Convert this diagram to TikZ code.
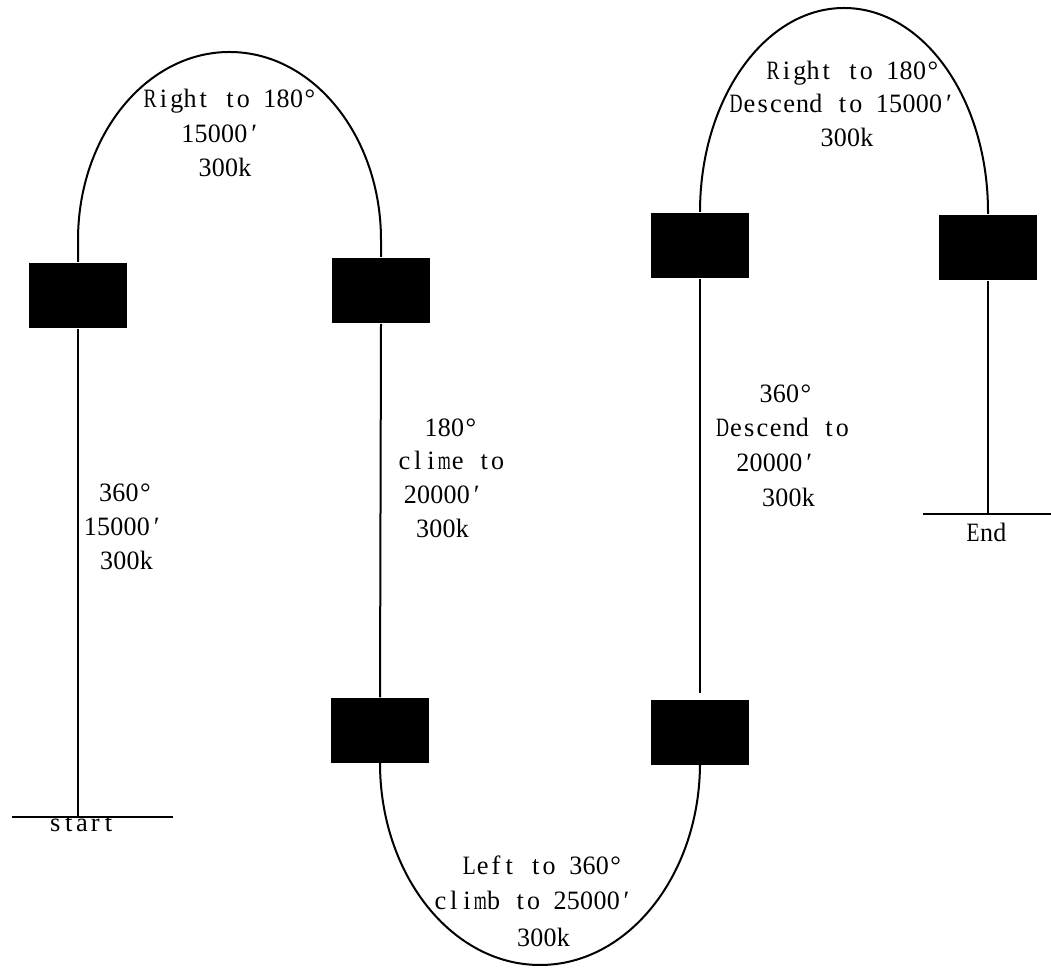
\documentclass[tikz,border=0pt]{standalone}
\usepackage{fontspec}
\setmainfont{Liberation Serif}
\usepackage{graphicx}
\newlength\monocw
\newcommand\monochar[1]{\settowidth\monocw{#1}\ifdim\monocw>13pt\relax\makebox[13.3pt]{\resizebox{13pt}{\height}{#1}}\else\makebox[13.3pt]{#1}\fi}
\def\monoend{\monoend}
\def\monoloop#1{\ifx#1\monoend\else\monochar{#1}\expandafter\monoloop\fi}
\newcommand\mono[1]{\monoloop#1\monoend}
\begin{document}
\begin{tikzpicture}[x=1pt,y=1pt,line width=2pt,
  blk/.style={fill=black,draw=none,minimum width=98pt,minimum height=65pt,inner sep=0pt},
  txt/.style={font=\fontsize{26.5}{30}\selectfont,inner sep=0pt,anchor=base}]
\useasboundingbox (0,0) rectangle (1051,968);
% boxes
\node[blk] (b1) at (78,672.5) {};
\node[blk] (b2) at (381,677.5) {};
\node[blk] (b3) at (380,237) {};
\node[blk] (b4) at (700,235) {};
\node[blk] (b5) at (700,722.5) {};
\node[blk] (b6) at (988,720.5) {};
% helper coordinates
\coordinate (s) at (78,151);
\coordinate (sl) at (12,151);
\coordinate (sr) at (173,151);
\coordinate (e) at (988,454);
\coordinate (el) at (923,454);
\coordinate (er) at (1051,454);
\coordinate (g) at (700,275);
\coordinate (a1) at (78,728);
\coordinate (a2) at (380,205);
% path
\draw (b1.south) -- (s);
\draw (sl) -- (sr);
\draw (b1.north) -- (a1) arc[start angle=180,end angle=0,x radius=151.5,y radius=188] -- (b2.north);
\draw (b2.south) -- (b3.north);
\draw (b3.south) -- (a2) arc[start angle=180,end angle=360,x radius=160,y radius=202] -- (b4.south);
\draw (g) -- (b5.south);
\draw (b5.north) arc[start angle=180,end angle=0,x radius=144,y radius=204] -- (b6.north);
\draw (b6.south) -- (e);
\draw (el) -- (er);
% labels
\node[txt] (ta1) at (230,860) {\mono{Right~to~180°}};
\node[txt] (ta2) at (221,825) {\mono{15000′}};
\node[txt] (ta3) at (225,791) {\mono{300k}};
\node[txt] (tb1) at (853,888) {\mono{Right~to~180°}};
\node[txt] (tb2) at (842.5,855) {\mono{Descend~to~15000′}};
\node[txt] (tb3) at (847,821) {\mono{300k}};
\node[txt] (tc1) at (451,531) {\mono{180°}};
\node[txt] (tc2) at (451,498) {\mono{clime~to}};
\node[txt] (tc3) at (443.5,464) {\mono{20000′}};
\node[txt] (tc4) at (442.5,430) {\mono{300k}};
\node[txt] (td1) at (786,565) {\mono{360°}};
\node[txt] (td2) at (782.5,531) {\mono{Descend~to}};
\node[txt] (td3) at (776,496) {\mono{20000′}};
\node[txt] (td4) at (788.5,461) {\mono{300k}};
\node[txt] (te1) at (125.5,466) {\mono{360°}};
\node[txt] (te2) at (123.5,432) {\mono{15000′}};
\node[txt] (te3) at (126.5,398) {\mono{300k}};
\node[txt] (tf1) at (542.5,93) {\mono{Left~to~360°}};
\node[txt] (tf2) at (533.5,58) {\mono{climb~to~25000′}};
\node[txt] (tf3) at (543.5,21) {\mono{300k}};
\node[txt] (ts) at (82,136) {\mono{start}};
\node[txt] (tend) at (986.5,426) {\mono{End}};
\end{tikzpicture}
\end{document}
